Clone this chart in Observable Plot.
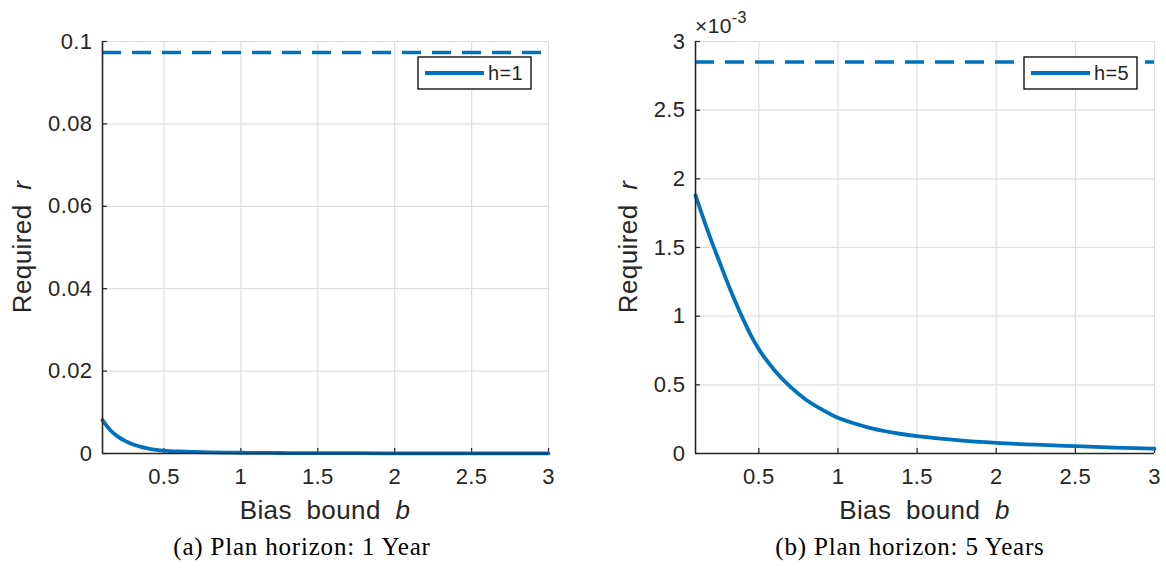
<!DOCTYPE html>
<html>
<head>
<meta charset="utf-8">
<script src="https://cdn.jsdelivr.net/npm/d3@7"></script>
<script src="https://cdn.jsdelivr.net/npm/@observablehq/plot@0.6"></script>
<style>
  html, body { margin: 0; padding: 0; background: #fff; }
  #wrap { position: relative; width: 1166px; height: 571px; overflow: hidden; }
  .panel { position: absolute; top: 0; }
  .caption { position: absolute; top: 533px; font-family: "Liberation Serif", "Times New Roman", serif; font-size: 25px; letter-spacing: 0.8px; color: #000; transform: translateX(-50%); white-space: nowrap; }
</style>
</head>
<body>
<div id="wrap">
  <div id="left" class="panel" style="left:0px"></div>
  <div id="right" class="panel" style="left:583px"></div>
  <div class="caption" style="left:302px">(a) Plan horizon: 1 Year</div>
  <div class="caption" style="left:910px">(b) Plan horizon: 5 Years</div>
</div>
<script>
// ---- data ----
const bias = [0.1, 0.15, 0.2, 0.25, 0.3, 0.35, 0.4, 0.45, 0.5, 0.6, 0.7, 0.8, 0.9, 1.0, 1.1, 1.2, 1.3, 1.4, 1.5, 1.75, 2.0, 2.25, 2.5, 2.75, 3.0];
const requiredH1 = [0.0081, 0.0057, 0.0041, 0.0030, 0.0022, 0.0016, 0.0012, 0.0009, 0.0007, 0.00048, 0.00036, 0.00028, 0.00022, 0.00018, 0.00015, 0.00013, 0.00011, 0.0001, 0.00009, 0.00007, 0.00005, 0.00004, 0.000035, 0.00003, 0.000025];
const requiredH5 = [1.88e-3, 1.71e-3, 1.55e-3, 1.40e-3, 1.25e-3, 1.11e-3, 0.98e-3, 0.86e-3, 0.76e-3, 0.605e-3, 0.485e-3, 0.39e-3, 0.32e-3, 0.26e-3, 0.22e-3, 0.187e-3, 0.162e-3, 0.142e-3, 0.126e-3, 0.098e-3, 0.078e-3, 0.064e-3, 0.053e-3, 0.043e-3, 0.035e-3];
const thresholdH1 = 0.0973;
const thresholdH5 = 2.85e-3;
const xTicks = [0.5, 1, 1.5, 2, 2.5, 3];
const yTicksH1 = [0, 0.02, 0.04, 0.06, 0.08, 0.1];
const yTicksH5 = [0, 0.5e-3, 1e-3, 1.5e-3, 2e-3, 2.5e-3, 3e-3];
const xDomain = [0.1, 3];
const legendH1 = "h=1";
const legendH5 = "h=5";

const BLUE = "#0072BD";
const INK = "#262626";
const GRID = "#dedede";
const FONT = "'Liberation Sans', Arial, Helvetica, sans-serif";

function panel({values, threshold, yTicks, yMax, tickFormat, legend, marginLeft, marginRight, labelOffset, exponent}) {
  const width = 583, height = 520, marginTop = 41, marginBottom = 67;
  const W = width - marginLeft - marginRight;
  const H = height - marginTop - marginBottom;
  const rows = bias.map((b, i) => ({b, r: values[i]}));
  const svg = Plot.plot({
    width, height, marginLeft, marginRight, marginTop, marginBottom,
    style: {fontFamily: FONT, fontSize: "22px", color: INK, background: "#fff", overflow: "visible", letterSpacing: "0.4px"},
    x: {domain: xDomain, ticks: xTicks, label: null},
    y: {domain: [0, yMax], ticks: yTicks, label: null},
    marks: [
      Plot.gridX(xTicks, {stroke: GRID, strokeOpacity: 1, strokeWidth: 1.2}),
      Plot.gridY(yTicks, {stroke: GRID, strokeOpacity: 1, strokeWidth: 1.2}),
      Plot.axisX(xTicks, {tickSize: 0, tickPadding: 15, tickFormat: d => String(d), fontSize: 22, fill: INK}),
      Plot.axisY(yTicks, {tickSize: 0, tickPadding: 10, tickFormat, fontSize: 22, fill: INK}),
      Plot.tickX(xTicks, {x: d => d, stroke: INK, strokeWidth: 1.2, insetTop: H - 5}),
      Plot.tickY(yTicks, {y: d => d, stroke: INK, strokeWidth: 1.2, insetRight: W - 5}),
      Plot.ruleY([threshold], {stroke: BLUE, strokeWidth: 3.5, strokeDasharray: "19,11"}),
      Plot.line(rows, {x: "b", y: "r", stroke: BLUE, strokeWidth: 3.8, curve: "monotone-x"}),
      Plot.ruleX([xDomain[0]], {stroke: INK, strokeWidth: 1.6}),
      Plot.ruleY([0], {stroke: INK, strokeWidth: 1.6})
    ]
  });
  const sx = svg.scale("x"), sy = svg.scale("y");
  const s = d3.select(svg);
  const x0 = sx.range[0], x1 = sx.range[1];
  const yTop = sy.range[1], yBot = sy.range[0];
  // x label
  const xl = s.append("text")
    .attr("x", (x0 + x1) / 2).attr("y", yBot + 57)
    .attr("text-anchor", "middle").attr("dominant-baseline", "central")
    .attr("font-size", 26).attr("fill", INK).attr("font-family", FONT)
    .attr("word-spacing", "7px");
  xl.append("tspan").text("Bias bound ");
  xl.append("tspan").attr("font-style", "italic").text("b");
  // y label
  const ylx = marginLeft - labelOffset;
  const yl = s.append("text")
    .attr("transform", `translate(${ylx},${(yTop + yBot) / 2}) rotate(-90)`)
    .attr("text-anchor", "middle").attr("dominant-baseline", "central")
    .attr("font-size", 26).attr("fill", INK).attr("font-family", FONT)
    .attr("word-spacing", "7px");
  yl.append("tspan").text("Required ");
  yl.append("tspan").attr("font-style", "italic").text("r");
  // legend
  const lg = s.append("g").attr("transform", `translate(${x1 - 130},${yTop + 16})`);
  lg.append("rect").attr("x", 0).attr("y", 0).attr("width", 113).attr("height", 32)
    .attr("fill", "#fff").attr("stroke", "#000").attr("stroke-width", 1.3);
  lg.append("line").attr("x1", 7).attr("x2", 66).attr("y1", 16).attr("y2", 16)
    .attr("stroke", BLUE).attr("stroke-width", 3.8);
  lg.append("text").attr("x", 70).attr("y", 16).attr("dominant-baseline", "central")
    .attr("text-anchor", "start")
    .attr("font-size", 20).attr("fill", INK).attr("font-family", FONT).text(legend);
  if (exponent) {
    const ex = s.append("text").attr("x", x0).attr("y", yTop - 8)
      .attr("text-anchor", "start")
      .attr("font-size", 21).attr("fill", INK).attr("font-family", FONT);
    ex.append("tspan").text("\u00d710");
    ex.append("tspan").attr("dy", -10).attr("font-size", 16).text(exponent);
  }
  return svg;
}

document.getElementById("left").appendChild(panel({
  values: requiredH1, threshold: thresholdH1, yTicks: yTicksH1, yMax: 0.1,
  tickFormat: d => String(d), legend: legendH1, marginLeft: 102, marginRight: 35, labelOffset: 80
}));
document.getElementById("right").appendChild(panel({
  values: requiredH5, threshold: thresholdH5, yTicks: yTicksH5, yMax: 3e-3,
  tickFormat: d => String(Number((d * 1000).toFixed(2))), legend: legendH5, marginLeft: 112, marginRight: 12, labelOffset: 67,
  exponent: "-3"
}));
</script>
</body>
</html>
